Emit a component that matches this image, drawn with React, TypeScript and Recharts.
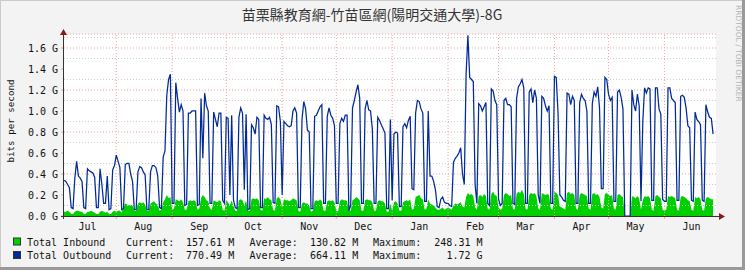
import { Area, CartesianGrid, ComposedChart, Line, ReferenceLine, XAxis, YAxis } from "recharts";

const BG = "#f3f3f3";
const GREEN = "#00cf00";
const BLUE = "#002a97";
const MGRID = "#f0a4a4";
const GRID = "#cdcdcd";
const MONO = "'DejaVu Sans Mono', monospace";

// one sample per day, day 0 = Jul 3
const outbound = [
  0.34, 0.33, 0.30, 0.27, 0.08, 0.07, 0.36, 0.52, 0.38, 0.36, 0.33, 0.08, 0.07, 0.45, 0.43, 0.42, 0.41, 0.37, 0.08, 0.08,
  0.45, 0.30, 0.12, 0.12, 0.38, 0.06, 0.07, 0.44, 0.48, 0.58, 0.52, 0.46, 0.06, 0.07, 0.49, 0.50, 0.50, 0.40, 0.33, 0.06,
  0.06, 0.42, 0.47, 0.46, 0.42, 0.39, 0.06, 0.06, 0.42, 0.48, 0.48, 0.46, 0.38, 0.08, 0.07, 0.56, 0.62, 1.15, 1.30, 1.35,
  0.12, 0.12, 1.27, 1.12, 0.99, 1.06, 1.00, 0.10, 0.11, 0.98, 0.98, 1.00, 1.00, 1.00, 0.10, 0.11, 1.12, 0.55, 1.17, 1.05,
  1.00, 0.12, 0.12, 0.99, 0.92, 0.85, 0.98, 0.98, 0.15, 0.12, 0.94, 0.93, 0.20, 0.96, 0.15, 0.08, 0.07, 0.94, 1.03, 0.98,
  0.25, 0.97, 0.06, 0.07, 0.87, 0.84, 0.78, 0.94, 0.92, 0.08, 0.08, 0.96, 0.93, 0.92, 0.94, 0.87, 0.13, 0.12, 1.05, 1.04,
  0.90, 0.20, 0.90, 0.88, 0.86, 0.85, 0.86, 1.00, 1.03, 0.98, 0.08, 0.08, 0.92, 1.09, 1.02, 0.82, 0.80, 0.07, 0.07, 0.95,
  0.96, 1.00, 1.04, 1.06, 0.12, 0.12, 0.95, 1.03, 0.96, 0.93, 0.86, 0.12, 0.12, 0.88, 0.93, 0.90, 0.96, 0.96, 0.05, 0.10,
  1.03, 1.10, 1.18, 1.25, 1.12, 0.12, 0.12, 1.02, 1.10, 1.01, 1.00, 0.83, 0.12, 0.12, 0.94, 0.91, 0.87, 0.83, 0.79, 0.07,
  0.07, 0.92, 0.15, 0.78, 0.80, 0.79, 0.09, 0.09, 0.85, 0.88, 0.84, 0.91, 0.95, 0.26, 0.25, 0.98, 1.10, 1.09, 1.02, 0.98,
  0.14, 0.14, 1.00, 0.38, 0.38, 0.33, 0.25, 0.09, 0.08, 0.16, 0.18, 0.13, 0.12, 0.12, 0.10, 0.09, 0.51, 0.55, 0.57, 0.60,
  0.65, 0.40, 0.30, 1.35, 1.72, 1.32, 1.30, 1.28, 0.30, 0.12, 1.07, 1.05, 1.00, 1.04, 1.08, 0.12, 0.10, 1.21, 1.19, 1.10,
  1.06, 0.16, 0.10, 0.12, 1.10, 1.12, 1.06, 1.06, 1.04, 0.12, 0.11, 1.12, 1.23, 1.26, 1.30, 1.22, 0.12, 0.12, 1.18, 1.21,
  1.08, 1.20, 1.12, 0.20, 0.12, 1.14, 1.12, 1.05, 1.00, 1.05, 0.12, 0.12, 1.33, 1.32, 0.98, 0.20, 0.18, 0.15, 0.14, 1.17,
  1.16, 1.06, 1.14, 1.10, 0.12, 0.12, 1.08, 1.16, 1.12, 1.10, 1.00, 0.12, 0.12, 1.07, 1.18, 1.14, 1.23, 1.03, 0.26, 0.26,
  1.32, 1.30, 1.16, 1.10, 1.13, 0.14, 0.14, 1.18, 1.20, 1.13, 1.02, 0, 0, 0, 0, 1.20, 1.06, 1.00, 1.16, 1.05,
  0.14, 0.90, 1.22, 1.17, 1.22, 1.21, 0.15, 0.15, 1.22, 1.22, 1.02, 0.97, 0.16, 0.14, 0.14, 1.22, 1.22, 1.12, 1.10, 1.08,
  0.15, 0.15, 1.14, 1.15, 1.13, 1.03, 0.86, 0.84, 0.15, 0.14, 0.99, 0.92, 0.90, 0.87, 0.15, 0.14, 1.06, 0.99, 0.94, 0.93,
  0.78,
];

const inbound = [
  0.04, 0.04, 0.05, 0.04, 0.02, 0.02, 0.04, 0.05, 0.05, 0.04, 0.04, 0.02, 0.02, 0.04, 0.04, 0.05, 0.04, 0.03, 0.02, 0.02,
  0.04, 0.05, 0.04, 0.03, 0.04, 0.02, 0.02, 0.04, 0.05, 0.04, 0.05, 0.05, 0.03, 0.10, 0.12, 0.11, 0.10, 0.11, 0.10, 0.05,
  0.05, 0.12, 0.13, 0.12, 0.13, 0.11, 0.05, 0.05, 0.12, 0.13, 0.14, 0.12, 0.11, 0.05, 0.06, 0.13, 0.16, 0.20, 0.17, 0.18,
  0.06, 0.07, 0.16, 0.15, 0.14, 0.16, 0.13, 0.06, 0.06, 0.14, 0.15, 0.14, 0.15, 0.14, 0.06, 0.07, 0.17, 0.20, 0.18, 0.15,
  0.14, 0.07, 0.06, 0.15, 0.14, 0.13, 0.15, 0.14, 0.06, 0.05, 0.15, 0.13, 0.10, 0.15, 0.09, 0.05, 0.05, 0.15, 0.16, 0.15,
  0.10, 0.15, 0.05, 0.05, 0.16, 0.17, 0.16, 0.17, 0.15, 0.06, 0.05, 0.17, 0.16, 0.18, 0.16, 0.15, 0.06, 0.05, 0.17, 0.18,
  0.16, 0.08, 0.16, 0.15, 0.15, 0.14, 0.15, 0.17, 0.16, 0.15, 0.05, 0.04, 0.12, 0.13, 0.12, 0.12, 0.10, 0.04, 0.05, 0.14,
  0.15, 0.14, 0.16, 0.14, 0.05, 0.05, 0.14, 0.15, 0.14, 0.15, 0.13, 0.05, 0.04, 0.14, 0.16, 0.15, 0.15, 0.14, 0.05, 0.05,
  0.15, 0.16, 0.18, 0.17, 0.15, 0.05, 0.05, 0.15, 0.16, 0.15, 0.15, 0.13, 0.05, 0.05, 0.14, 0.15, 0.14, 0.14, 0.12, 0.04,
  0.04, 0.12, 0.05, 0.13, 0.14, 0.12, 0.05, 0.05, 0.13, 0.14, 0.15, 0.14, 0.16, 0.06, 0.07, 0.18, 0.19, 0.20, 0.17, 0.16,
  0.06, 0.07, 0.16, 0.12, 0.11, 0.10, 0.08, 0.06, 0.06, 0.07, 0.08, 0.06, 0.07, 0.08, 0.07, 0.06, 0.10, 0.12, 0.11, 0.12,
  0.13, 0.09, 0.08, 0.18, 0.22, 0.20, 0.21, 0.19, 0.08, 0.06, 0.19, 0.20, 0.18, 0.21, 0.19, 0.07, 0.06, 0.21, 0.23, 0.20,
  0.19, 0.08, 0.06, 0.07, 0.20, 0.22, 0.21, 0.19, 0.20, 0.07, 0.06, 0.21, 0.23, 0.22, 0.25, 0.21, 0.07, 0.06, 0.20, 0.22,
  0.21, 0.22, 0.19, 0.07, 0.06, 0.22, 0.21, 0.20, 0.21, 0.20, 0.07, 0.06, 0.23, 0.22, 0.20, 0.09, 0.08, 0.07, 0.06, 0.22,
  0.23, 0.21, 0.22, 0.20, 0.07, 0.06, 0.20, 0.22, 0.21, 0.20, 0.19, 0.07, 0.06, 0.21, 0.22, 0.20, 0.21, 0.18, 0.08, 0.07,
  0.21, 0.22, 0.20, 0.19, 0.20, 0.07, 0.06, 0.20, 0.21, 0.19, 0.18, 0, 0, 0, 0, 0.19, 0.18, 0.17, 0.19, 0.17,
  0.06, 0.15, 0.19, 0.18, 0.19, 0.17, 0.06, 0.05, 0.19, 0.20, 0.18, 0.17, 0.06, 0.05, 0.06, 0.19, 0.18, 0.19, 0.18, 0.17,
  0.06, 0.05, 0.18, 0.19, 0.18, 0.17, 0.15, 0.14, 0.06, 0.05, 0.18, 0.17, 0.18, 0.16, 0.06, 0.05, 0.17, 0.18, 0.17, 0.16,
  0.16,
];

const months = ["Jul", "Aug", "Sep", "Oct", "Nov", "Dec", "Jan", "Feb", "Mar", "Apr", "May", "Jun"];
const monthLabelDays = [13, 44, 75, 105, 136, 166, 197, 228, 256, 287, 317, 348];
const monthStartDays = [29, 60, 90, 121, 151, 182, 213, 241, 272, 302, 333];
const yTicks = [0, 0.2, 0.4, 0.6, 0.8, 1.0, 1.2, 1.4, 1.6];
const yMinor = [0.1, 0.3, 0.5, 0.7, 0.9, 1.1, 1.3, 1.5, 1.7];

const legendRows = [
  { name: "Total Inbound", color: GREEN, current: "157.61 M", average: "130.82 M", maximum: "248.31 M" },
  { name: "Total Outbound", color: BLUE, current: "770.49 M", average: "664.11 M", maximum: "1.72 G" },
];

const data = outbound.map((v, i) => ({ day: i, out: v, in: inbound[i] }));
const xTicks = [...monthStartDays, ...monthLabelDays].sort((a, b) => a - b);

function MonthTick(props: any) {
  const { x, y, payload } = props;
  const idx = monthLabelDays.indexOf(payload.value);
  if (idx >= 0) {
    return (
      <text x={x} y={y} dy={10.5} textAnchor="middle" fontFamily={MONO} fontSize={10} fill="#111">
        {months[idx]}
      </text>
    );
  }
  return <line x1={x} x2={x} y1={y - 3} y2={y} stroke={MGRID} />;
}

export default function App() {
  return (
    <div style={{ position: "relative", width: 745, height: 270, background: BG }}>
      <style>{"body{margin:0}"}</style>
      <ComposedChart width={745} height={270} data={data} margin={{ top: 34, right: 29, left: 8, bottom: 34 }}>
        <CartesianGrid vertical={false} stroke={MGRID} strokeDasharray="1 2" fill="#ffffff" />
        {yMinor.map((v) => (
          <ReferenceLine key={"m" + v} y={v} stroke={GRID} strokeDasharray="1 2" />
        ))}
        {monthStartDays.map((d) => (
          <ReferenceLine key={"v" + d} x={d} stroke={MGRID} strokeDasharray="1 2" />
        ))}
        <XAxis
          dataKey="day"
          type="number"
          domain={[0, 361.6]}
          ticks={xTicks}
          interval={0}
          tick={<MonthTick />}
          tickLine={false}
          axisLine={false}
          tickSize={3}
          tickMargin={0}
          height={20}
          allowDataOverflow
        />
        <YAxis
          domain={[0, 1.7333]}
          ticks={yTicks}
          width={56}
          tickFormatter={(v: number) => `${v.toFixed(1)} G`}
          tick={{ fontFamily: MONO, fontSize: 10, fill: "#111" }}
          tickLine={{ stroke: MGRID }}
          tickSize={3}
          tickMargin={3}
          axisLine={false}
          allowDataOverflow
        />
        <Area dataKey="in" type="linear" fill={GREEN} fillOpacity={1} stroke="none" isAnimationActive={false} dot={false} activeDot={false} />
        <Line dataKey="out" type="linear" stroke={BLUE} strokeWidth={1.25} isAnimationActive={false} dot={false} activeDot={false} />
      </ComposedChart>
      <svg width={745} height={270} style={{ position: "absolute", left: 0, top: 0, pointerEvents: "none" }}>
        {/* frame shading */}
        <line x1={0} y1={0.5} x2={745} y2={0.5} stroke="#cbcbcb" />
        <line x1={0.5} y1={0} x2={0.5} y2={270} stroke="#cbcbcb" />
        <line x1={0} y1={268.5} x2={745} y2={268.5} stroke="#999" strokeWidth={3} />
        <line x1={743.5} y1={0} x2={743.5} y2={270} stroke="#999" strokeWidth={3} />
        <text x={372} y={19.5} textAnchor="middle" fontFamily="'Noto Sans CJK TC', 'DejaVu Sans', sans-serif" fontSize={14} fill="#333">
          苗栗縣教育網-竹苗區網(陽明交通大學)-8G
        </text>
        <text x={736} y={5} transform="rotate(90 736 5)" fontFamily="'DejaVu Sans', sans-serif" fontSize={7.5} fill="#b4b4b4">
          RRDTOOL / TOBI OETIKER
        </text>
        <text x={10} y={121} transform="rotate(-90 10 121)" textAnchor="middle" dominantBaseline="central" fontFamily={MONO} fontSize={9.2} fill="#111">
          bits per second
        </text>
        {/* axes with arrows */}
        <line x1={61} y1={216.5} x2={720} y2={216.5} stroke="#333" />
        <path d="M719,213 L725,216.5 L719,220 Z" fill="#8b1a1a" />
        <line x1={63.5} y1={219} x2={63.5} y2={33} stroke="#333" />
        <path d="M60,35 L63.5,29 L67,35 Z" fill="#8b1a1a" />
        {legendRows.map((r, i) => {
          const base = 245.5 + i * 13.5;
          return (
            <g key={r.name} fontFamily={MONO} fontSize={10} fill="#111">
              <rect x={13.5} y={base - 7.5} width={7} height={7} fill={r.color} stroke="#333" />
              <text x={27} y={base}>{r.name}</text>
              <text x={126} y={base}>Current:</text>
              <text x={186} y={base}>{r.current}</text>
              <text x={249.5} y={base}>Average:</text>
              <text x={310} y={base}>{r.average}</text>
              <text x={373} y={base}>Maximum:</text>
              <text x={482.5} y={base} textAnchor="end">{r.maximum}</text>
            </g>
          );
        })}
      </svg>
    </div>
  );
}
